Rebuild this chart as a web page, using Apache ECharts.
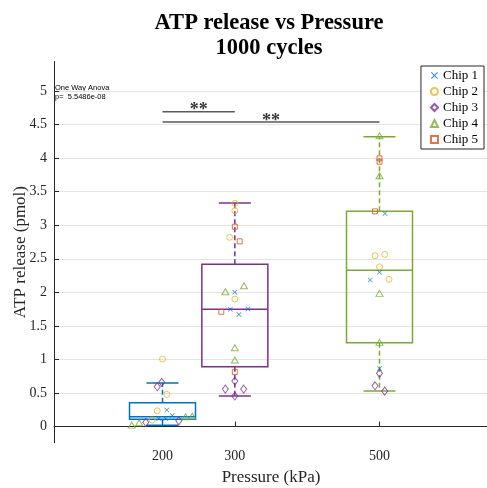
<!DOCTYPE html>
<html lang="en">
<head>
    <meta charset="UTF-8">
    <title>ATP release vs Pressure</title>
    <script src="https://cdn.jsdelivr.net/npm/echarts@6/dist/echarts.min.js"></script>
</head>
<body style="margin:0">
<div style="width:487px;height:488px" id="picture"></div>
<script>
    // box stats per pressure: min, q1, median, q3, max
    var pressures = [200, 300, 500];
    var boxStats = [
        [0.02, 0.11, 0.145, 0.355, 0.65],
        [0.455, 0.89, 1.75, 2.42, 3.33],
        [0.53, 1.25, 2.33, 3.21, 4.32]
    ];
    var boxColors = ['#0072BD', '#7E2F8E', '#77AC30'];

    // points [pressure (jittered), ATP]
    var chip1 = [[206, 0.246], [213.4, 0.167], [194.9, 0.122], [204.2, 0.122],
        [300, 2.0], [293.8, 1.747], [318.2, 1.751], [305.7, 1.672],
        [507.6, 3.177], [500, 2.298], [487.2, 2.183], [500, 0.867]];
    var chip2 = [[200, 1.006], [206, 0.48], [192.7, 0.235], [185.7, 0.097],
        [300, 3.326], [300, 3.216], [292.8, 2.82], [300, 1.90],
        [493.8, 2.545], [507.2, 2.566], [500, 2.38], [513.1, 2.194]];
    var chip3 = [[192.7, 0.593], [199, 0.659], [176.9, 0.063], [222.6, 0.086],
        [300, 0.678], [286.9, 0.559], [312.2, 0.559], [300, 0.455],
        [500, 0.793], [493.8, 0.608], [507.2, 0.529]];
    var chip4 = [[157.5, 0.022], [167.7, 0.057], [231.9, 0.146], [241.2, 0.156],
        [286.9, 2.009], [312.6, 2.098], [300, 1.174], [300, 0.991],
        [500, 4.334], [500, 3.738], [500, 1.985], [500, 1.255]];
    var chip5 = [[300, 2.978], [306.7, 2.76], [281.3, 1.711], [300, 0.812],
        [500, 3.997], [500, 3.946], [493.8, 3.207]];

    var chipNames = ['Chip 1', 'Chip 2', 'Chip 3', 'Chip 4', 'Chip 5'];
    var chipColors = ['#0072BD', '#EDB120', '#7E2F8E', '#77AC30', '#D95319'];

    // significance brackets: from, to, level
    var sigFrom = [200, 200];
    var sigTo = [300, 500];
    var sigLevel = [4.69, 4.54];
    var sigText = ['**', '**'];

    var yTicks = [0, 0.5, 1, 1.5, 2, 2.5, 3, 3.5, 4, 4.5, 5];
    var xTicks = [200, 300, 500];

    var serif = 'Liberation Serif';
    var axisColor = '#262626';

    var boxData = [];
    for (var i = 0; i < pressures.length; i++) {
        boxData.push([pressures[i]].concat(boxStats[i]));
    }

    function renderBox(params, api) {
        var x = api.value(0);
        var color = boxColors[params.dataIndex];
        var lo = api.coord([x, api.value(1)]);
        var q1 = api.coord([x, api.value(2)]);
        var md = api.coord([x, api.value(3)]);
        var q3 = api.coord([x, api.value(4)]);
        var hi = api.coord([x, api.value(5)]);
        var w = 33;
        var c = 16;
        var solid = {stroke: color, lineWidth: 1.5, fill: null};
        var dash = {stroke: color, lineWidth: 1.5, fill: null, lineDash: [5, 3]};
        return {
            type: 'group',
            children: [
                {type: 'line', shape: {x1: q3[0], y1: q3[1], x2: hi[0], y2: hi[1]}, style: dash},
                {type: 'line', shape: {x1: q1[0], y1: q1[1], x2: lo[0], y2: lo[1]}, style: dash},
                {type: 'line', shape: {x1: hi[0] - c, y1: hi[1], x2: hi[0] + c, y2: hi[1]}, style: solid},
                {type: 'line', shape: {x1: lo[0] - c, y1: lo[1], x2: lo[0] + c, y2: lo[1]}, style: solid},
                {type: 'rect', shape: {x: q3[0] - w, y: q3[1], width: 2 * w, height: q1[1] - q3[1]}, style: solid},
                {type: 'line', shape: {x1: md[0] - w, y1: md[1], x2: md[0] + w, y2: md[1]}, style: solid}
            ]
        };
    }

    var crossPath = 'path://M0,1L1,0L5,4L9,0L10,1L6,5L10,9L9,10L5,6L1,10L0,9L4,5Z';
    var chipSymbols = [crossPath, 'circle', 'diamond', 'triangle', 'rect'];
    var chipSizes = [[5, 5], 6, [6, 8], [7, 6], 5];
    var chipData = [chip1, chip2, chip3, chip4, chip5];

    var series = [{
        type: 'custom',
        renderItem: renderBox,
        data: boxData,
        encode: {x: 0, y: [1, 2, 3, 4, 5]},
        silent: true,
        z: 1
    }];

    for (var k = 0; k < sigFrom.length; k++) {
        series.push({
            type: 'line',
            data: [[sigFrom[k], sigLevel[k]], [sigTo[k], sigLevel[k]]],
            symbol: 'none',
            lineStyle: {color: '#595959', width: 1.5},
            silent: true,
            z: 2
        });
        series.push({
            type: 'scatter',
            data: [[(sigFrom[k] + sigTo[k]) / 2, sigLevel[k]]],
            symbolSize: 0,
            silent: true,
            label: {
                show: true,
                position: 'inside',
                offset: [0, -1],
                formatter: sigText[k],
                fontFamily: serif,
                fontSize: 18,
                fontWeight: 'bold',
                color: '#000'
            },
            z: 3
        });
    }

    for (var n = 0; n < chipData.length; n++) {
        var hollow = n !== 0;
        series.push({
            name: chipNames[n],
            type: 'scatter',
            data: chipData[n],
            symbol: chipSymbols[n],
            symbolSize: chipSizes[n],
            itemStyle: hollow ? {
                color: 'rgba(255,255,255,0)',
                borderColor: chipColors[n],
                borderWidth: 1
            } : {color: chipColors[n]},
            z: 4
        });
    }

    var myChart = echarts.init(document.getElementById('picture'));
    var option = {
        animation: false,
        title: {
            text: 'ATP release vs Pressure\n1000 cycles',
            left: 269,
            top: 10,
            textAlign: 'center',
            padding: 0,
            textStyle: {
                fontFamily: serif,
                fontSize: 22.5,
                fontWeight: 'bold',
                color: '#000',
                lineHeight: 25.5
            }
        },
        legend: {
            data: chipNames.map(function (nm, i) {
                return {name: nm, icon: chipSymbols[i]};
            }),
            orient: 'vertical',
            right: 3,
            top: 66,
            padding: [3, 6, 3, 9],
            itemGap: 3,
            itemWidth: 7,
            itemHeight: 7,
            borderColor: axisColor,
            borderWidth: 1,
            backgroundColor: '#fff',
            textStyle: {fontFamily: serif, fontSize: 13, color: '#000'}
        },
        graphic: [{
            type: 'text',
            left: 55,
            top: 83,
            style: {
                text: 'One Way Anova\np=  5.5486e-08',
                fontFamily: 'Liberation Sans',
                fontSize: 7.5,
                lineHeight: 9.5,
                fill: '#000'
            }
        }],
        grid: {
            left: 54,
            right: -1,
            top: 61.5,
            bottom: 45.3,
            outerBoundsMode: 'none',
            containLabel: false
        },
        xAxis: {
            type: 'value',
            min: 50,
            max: 650,
            name: 'Pressure (kPa)',
            nameLocation: 'middle',
            nameGap: 25,
            nameTextStyle: {fontFamily: serif, fontSize: 17, color: axisColor},
            axisLine: {lineStyle: {color: axisColor}},
            axisTick: {inside: true, length: 5, customValues: xTicks, lineStyle: {color: axisColor}},
            axisLabel: {customValues: xTicks, margin: 7, fontFamily: serif, fontSize: 14, color: axisColor},
            splitLine: {show: false}
        },
        yAxis: {
            type: 'value',
            min: -0.24,
            max: 5.44,
            name: 'ATP release (pmol)',
            nameLocation: 'middle',
            nameGap: 25,
            nameMoveOverlap: false,
            nameTextStyle: {fontFamily: serif, fontSize: 17, color: axisColor},
            axisLine: {show: true, lineStyle: {color: axisColor}},
            axisTick: {show: true, inside: true, length: 5, customValues: yTicks, lineStyle: {color: axisColor}},
            axisLabel: {customValues: yTicks, margin: 7, fontFamily: serif, fontSize: 14, color: axisColor},
            splitLine: {show: true, lineStyle: {color: '#e3e3e3'}}
        },
        series: series
    };
    myChart.setOption(option);
</script>
</body>
</html>
